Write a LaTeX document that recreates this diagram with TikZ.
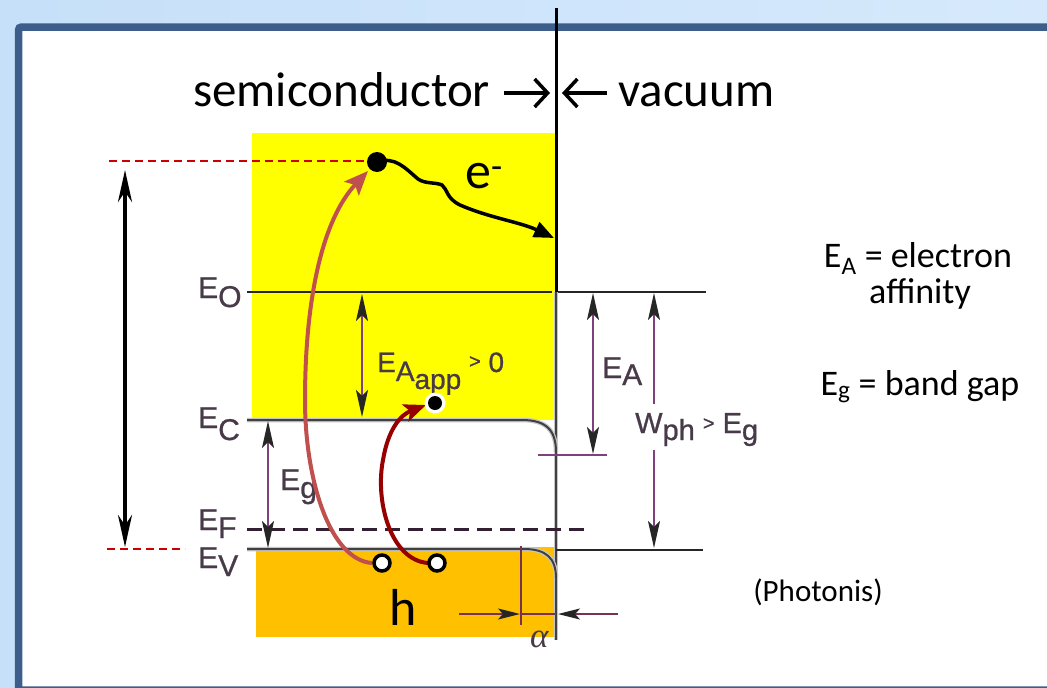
\documentclass[tikz,border=0pt]{standalone}
\usepackage{fontspec}
\setmainfont{Carlito}
\newfontfamily\arialf[FakeBold=0.8]{Liberation Sans}
\newfontfamily\timesf{Liberation Serif}
\usetikzlibrary{arrows.meta,calc}
\definecolor{bgL}{RGB}{198,224,249}
\definecolor{bgR}{RGB}{214,233,252}
\definecolor{frameblue}{RGB}{61,94,138}
\definecolor{ylw}{RGB}{255,255,0}
\definecolor{orng}{RGB}{255,192,0}
\definecolor{lbl}{RGB}{72,58,72}
\definecolor{purp}{RGB}{128,64,124}
\definecolor{alphaline}{RGB}{120,50,80}
\definecolor{redA}{RGB}{192,80,77}
\definecolor{redB}{RGB}{150,0,0}
\definecolor{dashred}{RGB}{204,0,0}
\definecolor{fermi}{RGB}{50,32,50}
\tikzset{
  dimtip/.tip={Stealth[length=27pt,width=12pt,inset=6pt,color=black!85]},
  smalltip/.tip={Stealth[length=22pt,width=11pt,inset=5pt,color=black!85]},
  bandlbl/.style={font=\arialf\fontsize{30}{30}\selectfont, text=lbl, inner sep=0pt, anchor=base west},
  dimline/.style={draw=purp, line width=1.7pt},
  bandline/.style={draw=black!75, line width=2pt, preaction={draw=gray!45, line width=4.5pt}},
  sidetext/.style={font=\fontsize{36}{36}\selectfont, inner sep=0pt, anchor=base},
  bigtext/.style={font=\fontsize{49}{49}\selectfont, inner sep=0pt, anchor=base west},
  hole/.style={draw=black, line width=3.5pt, fill=white},
}
\begin{document}
\begin{tikzpicture}[x=1pt,y=-1pt]
\useasboundingbox (0,0) rectangle (1047,688);
\clip (0,0) rectangle (1047,688);
% background and frame
\shade[left color=bgL, right color=bgR] (0,0) rectangle (1047,688);
\draw[fill=white, draw=frameblue, line width=7.5pt, rounded corners=3pt] (18.5,27) rectangle (1075,690);
% bands
\fill[ylw] (252,133) rectangle (555,420);
\fill[orng] (256,547) rectangle (555,637);
% interface
\draw[line width=3pt] (556,8) -- (556,292);
\draw[bandline] (556,292) -- (556,640);
% levels
\draw[black!85, line width=1.3pt] (247,292) -- (552,292);
\draw[black!85, line width=1.3pt] (558,292) -- (706,292);
\draw[bandline] (247,420) -- (522,420) .. controls (546,420) and (556,430) .. (556,452);
\draw[bandline] (247,549) -- (524,549) .. controls (546,549) and (556,558) .. (556,578);
\draw[black!85, line width=1.3pt] (556,550) -- (703,550);
\draw[fermi, line width=3pt, dash pattern=on 15pt off 8pt] (247,529) -- (588,529);
% dimension lines
\draw[dimline, dimtip-dimtip] (362,294) -- (362,417);
\draw[dimline, dimtip-dimtip] (268,421) -- (268,548);
\draw[dimline, dimtip-dimtip] (593,293) -- (593,454);
\draw[dimline] (538,455) -- (607,455);
\draw[dimline, dimtip-] (654,293) -- (654,404);
\draw[dimline, -dimtip] (654,450) -- (654,548);
\draw[dimline, alphaline] (521,546) -- (521,625);
\draw[dimline, alphaline, -smalltip] (459,614) -- (520,614);
\draw[dimline, alphaline] (521,614) -- (556,614);
\draw[dimline, alphaline, -smalltip] (618,614) -- (558,614);
% band labels
\node[bandlbl] (eo) at (198,298) {E\raisebox{-9pt}{O}};
\node[bandlbl] (ec) at (198,428) {E\raisebox{-12pt}{C}};
\node[bandlbl] (ef) at (198,530) {E\raisebox{-8pt}{F}};
\node[bandlbl] (ev) at (198,568) {E\raisebox{-8pt}{V}};
\node[bandlbl, font=\arialf\fontsize{28}{28}\selectfont] (eaapp) at (377,372) {E\raisebox{-9pt}{A\raisebox{-8pt}{app}} \raisebox{4pt}{\fontsize{20}{20}\selectfont >} 0};
\node[bandlbl] (eg) at (280,490) {E\raisebox{-8pt}{g}};
\node[bandlbl] (ea) at (602,378) {E\raisebox{-7pt}{A}};
\node[bandlbl, font=\arialf\fontsize{29}{29}\selectfont] (wph) at (635,433) {W\raisebox{-7pt}{ph} \raisebox{3pt}{\fontsize{20}{20}\selectfont >} E\raisebox{-7pt}{g}};
\node[bandlbl, font=\timesf\itshape\fontsize{35}{35}\selectfont] (alpha) at (530,647) {α};
% left arrow and red dashed
\draw[dashred, line width=2pt, dash pattern=on 8pt off 5pt] (109,161) -- (370,161);
\draw[dashred, line width=2pt, dash pattern=on 8pt off 5pt] (107,549) -- (185,549);
\draw[line width=4pt, {Stealth[length=32pt,width=14pt]}-{Stealth[length=32pt,width=14pt]}] (125,170) -- (125,547);
% excitation arrows
\draw[redA, line width=4pt, -{Stealth[length=24pt,width=20pt,inset=5pt]}] (372,563) .. controls (330,560) and (305,480) .. (305,400) .. controls (305,300) and (322,220) .. (368,171);
\draw[redB, line width=4pt, -{Stealth[length=22pt,width=18pt,inset=5pt]}] (428,563) .. controls (390,560) and (375,500) .. (383,460) .. controls (388,430) and (400,415) .. (426,405);
% electron path
\draw[line width=3.5pt, -{Triangle[length=20pt,width=16pt]}] (377,162) .. controls (395,156) and (405,168) .. (418,179) .. controls (425,184) and (435,182) .. (442,185) .. controls (448,190) and (446,198) .. (460,205) .. controls (490,218) and (520,222) .. (554,238);
\fill (377,162) circle (10);
\fill[white] (435,403) circle (10.5);
\fill (435,403) circle (7);
\draw[hole] (382,563) circle (8);
\draw[hole] (437,563) circle (8);
% big texts
\node[bigtext] (semi) at (193,106) {semiconductor};
\node[bigtext] (vac) at (618,106) {vacuum};
\coordinate (ra1) at (504,93);
\coordinate (ra2) at (550,93);
\coordinate (la1) at (607,93);
\coordinate (la2) at (562,93);
\draw[line width=3.5pt, -{Straight Barb[length=13pt,width=28pt]}] (ra1) -- (ra2);
\draw[line width=3.5pt, -{Straight Barb[length=13pt,width=28pt]}] (la1) -- (la2);
\node[bigtext, font=\fontsize{52}{52}\selectfont] (elec) at (465,188) {e\textsuperscript{-}};
\node[bigtext, font=\fontsize{52}{52}\selectfont] (hh) at (389,625) {h};
% side texts
\node[sidetext] (t1) at (918,267) {E\textsubscript{A} = electron};
\node[sidetext] (t2) at (920,303) {affinity};
\node[sidetext] (t3) at (920,395) {E\textsubscript{g} = band gap};
\node[sidetext, font=\fontsize{31}{31}\selectfont] (phot) at (818,601) {(Photonis)};
\end{tikzpicture}
\end{document}
